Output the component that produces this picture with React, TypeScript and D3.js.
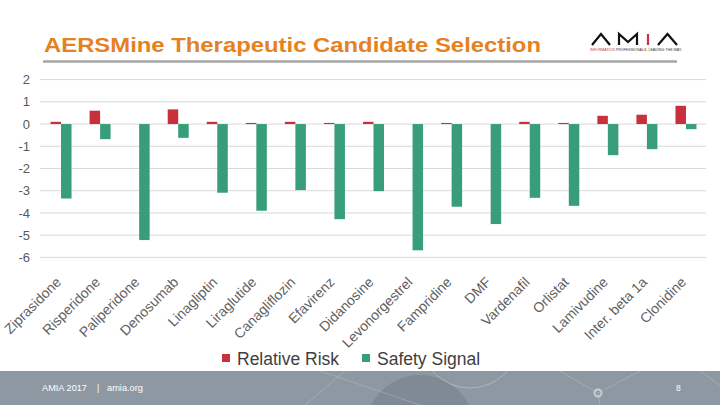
import React from 'react';
import * as d3 from 'd3';

const categories = [
  'Ziprasidone', 'Risperidone', 'Paliperidone', 'Denosumab', 'Linagliptin', 'Liraglutide',
  'Canagliflozin', 'Efavirenz', 'Didanosine', 'Levonorgestrel', 'Fampridine', 'DMF',
  'Vardenafil', 'Orlistat', 'Lamivudine', 'Inter. beta 1a', 'Clonidine',
];
const relativeRisk = [0.1, 0.6, 0, 0.66, 0.1, 0.05, 0.1, 0.05, 0.1, 0, 0.05, 0, 0.1, 0.05, 0.37, 0.42, 0.82];
const safetySignal = [-3.35, -0.68, -5.22, -0.62, -3.09, -3.9, -2.97, -4.28, -3.02, -5.68, -3.72, -4.5, -3.32, -3.68, -1.4, -1.13, -0.23];
const yTicks = [2, 1, 0, -1, -2, -3, -4, -5, -6];
const seriesNames = ['Relative Risk', 'Safety Signal'];
const seriesColors = ['#C8313B', '#389E79'];

const W = 720;
const H = 405;
const FONT = "'Liberation Sans', Arial, sans-serif";

export default function App() {
  const x = d3.scaleBand<string>().domain(categories).range([41.5, 705.5]).paddingInner(0).paddingOuter(0);
  const xs = d3.scaleBand<string>().domain(seriesNames).range([0, x.bandwidth()]).paddingInner(0).paddingOuter(0.86);
  const y = d3.scaleLinear().domain([-6, 2]).range([257.4, 79.6]);
  const seriesData = [relativeRisk, safetySignal];

  return (
    <div style={{ position: 'absolute', left: 0, top: 0, width: W, height: H, background: '#fff' }}>
      <svg width={W} height={H} style={{ display: 'block', fontFamily: FONT }}>
        <rect x={0} y={0} width={W} height={H} fill="#ffffff" />
        {/* Title */}
        <text x={44} y={52} fill="#E6811F" fontSize={21} fontWeight="bold" textLength={497} lengthAdjust="spacingAndGlyphs">
          AERSMine Therapeutic Candidate Selection
        </text>
        <line x1={43} x2={677} y1={61.5} y2={61.5} stroke="#A6A6A6" strokeWidth={2.5} />

        {/* Logo */}
        <g transform="translate(592,34)" fill="none" stroke="#111" strokeWidth={2.2} strokeLinejoin="miter">
          <polyline points="0,11 9,0 18,11" />
          <polyline points="27,11 27,0 36,8 45,0 45,11" />
          <line x1={56} y1={0} x2={56} y2={11} stroke="#C8313B" />
          <polyline points="66,11 75.5,0 85,11" />
        </g>
        <text x={590} y={51} fontSize={3.6} fill="#333" textLength={92} lengthAdjust="spacingAndGlyphs">
          <tspan fill="#C8313B">INFORMATICS</tspan> PROFESSIONALS. LEADING THE WAY.
        </text>

        {/* Grid + y ticks */}
        {yTicks.map((t) => (
          <g key={t}>
            <line x1={40} x2={706} y1={y(t)} y2={y(t)} stroke="#D9D9D9" strokeWidth={1} />
            <text x={30} y={y(t)} dy="0.35em" textAnchor="end" fontSize={13} fill="#595959">
              {String(t)}
            </text>
          </g>
        ))}

        {/* Bars */}
        {seriesNames.map((s, si) => (
          <g key={s} fill={seriesColors[si]}>
            {categories.map((c, i) => {
              const v = seriesData[si][i];
              const y0 = y(Math.max(0, v));
              const y1 = y(Math.min(0, v));
              return (
                <rect key={c} x={(x(c) as number) + (xs(s) as number)} width={xs.bandwidth()} y={y0} height={Math.max(0, y1 - y0)} />
              );
            })}
          </g>
        ))}

        {/* Category labels */}
        {categories.map((c) => {
          const cx = (x(c) as number) + x.bandwidth() / 2;
          return (
            <text key={c} transform={`translate(${cx + 1},283) rotate(-45)`} textAnchor="end" fontSize={14} fill="#5f5f5f">
              {c}
            </text>
          );
        })}

        {/* Legend */}
        {seriesNames.map((s, si) => {
          const lx = [222, 362][si];
          return (
            <g key={s}>
              <rect x={lx} y={354} width={8} height={8} fill={seriesColors[si]} />
              <text x={lx + 15} y={365} fontSize={17.5} fill="#404040">{s}</text>
            </g>
          );
        })}

        {/* Footer */}
        <rect x={0} y={371} width={W} height={34} fill="#8D98A3" />
        <g>
          <clipPath id="fclip"><rect x={0} y={371} width={W} height={34} /></clipPath>
          <g clipPath="url(#fclip)">
            <circle cx={420} cy={430} r={55} fill="#7F8A95" />
            <circle cx={470} cy={338} r={50} fill="none" stroke="#B4BCC4" strokeWidth={1} opacity={0.8} />
            <line x1={305} y1={405} x2={345} y2={371} stroke="#B4BCC4" strokeWidth={0.8} opacity={0.7} />
            <line x1={320} y1={371} x2={420} y2={405} stroke="#B4BCC4" strokeWidth={0.8} opacity={0.6} />
            <line x1={560} y1={371} x2={598} y2={393} stroke="#B4BCC4" strokeWidth={0.8} opacity={0.7} />
            <line x1={598} y1={393} x2={640} y2={371} stroke="#B4BCC4" strokeWidth={0.8} opacity={0.7} />
            <line x1={598} y1={393} x2={600} y2={405} stroke="#B4BCC4" strokeWidth={0.8} opacity={0.7} />
            <line x1={700} y1={371} x2={720} y2={385} stroke="#B4BCC4" strokeWidth={0.8} opacity={0.7} />
            <circle cx={598} cy={393} r={3.5} fill="none" stroke="#C8CED4" strokeWidth={2} />
          </g>
        </g>
        <text x={42} y={391} fontSize={8.5} fill="#ffffff" textLength={45} lengthAdjust="spacingAndGlyphs">AMIA 2017</text>
        <text x={97} y={391} fontSize={8.5} fill="#ffffff">|</text>
        <text x={107} y={391} fontSize={8.5} fill="#ffffff" textLength={36} lengthAdjust="spacingAndGlyphs">amia.org</text>
        <text x={676} y={391} fontSize={8.5} fill="#ffffff">8</text>
      </svg>
    </div>
  );
}
